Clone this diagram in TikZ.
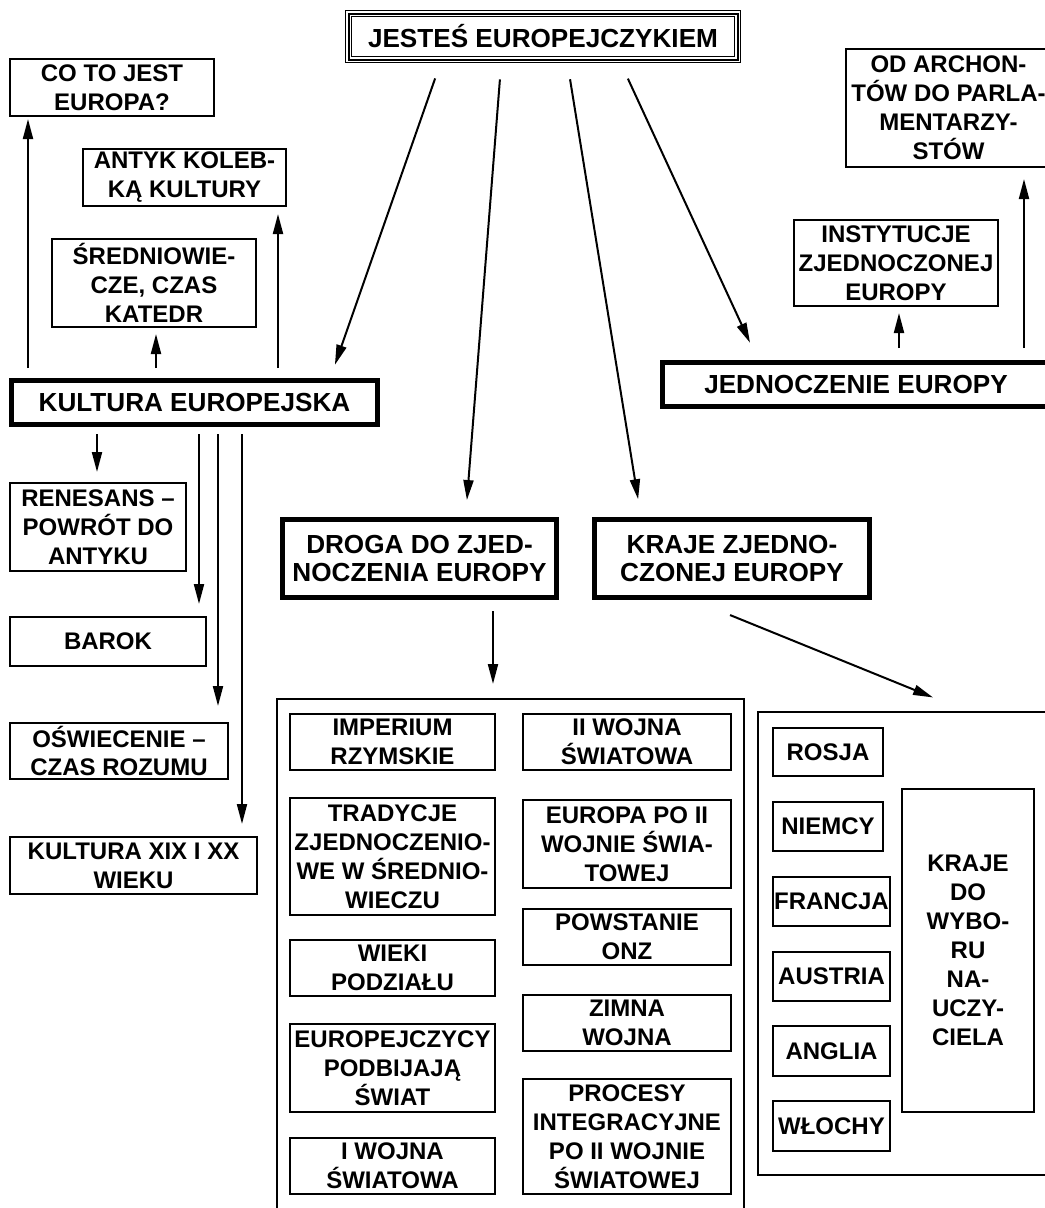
\documentclass[tikz,border=0pt]{standalone}
\usepackage{fontspec}
\setmainfont{Liberation Sans}
\usetikzlibrary{arrows.meta}
\newlength{\jd}\setlength{\jd}{0.75pt}
\newcommand{\duzy}{\fontsize{19.6}{21.7}\selectfont\bfseries}
\newcommand{\maly}{\fontsize{18}{21.7}\selectfont\bfseries}
\tikzset{
  pole/.style={draw, line width=1.5pt, align=center, inner sep=0pt, font=\maly},
  grube/.style={draw, line width=3.75pt, align=center, inner sep=0pt, font=\duzy},
  tytul/.style={draw, line width=1.5pt, preaction={draw, line width=5.25pt}, preaction={draw, white, line width=3.75pt}, align=center, inner sep=0pt, font=\duzy},
  ramka/.style={draw, line width=1.5pt, inner sep=0pt},
  strzalka/.style={line width=1.5pt, -{Triangle[length=15pt, width=7.5pt]}},
}

\begin{document}
\begin{tikzpicture}[x=0.75pt,y=0.75pt,yscale=-1,xscale=1]
\useasboundingbox (0,0) rectangle (1045,1208);
\clip (0,0) rectangle (1045,1208);

%Shape: Title
\node [tytul, minimum width=389\jd, minimum height=46\jd] (jestes) at (543,36.5) {JESTEŚ EUROPEJCZYKIEM};

%Shape: Rectangle (main topics)
\node [grube, minimum width=366\jd, minimum height=44\jd] (kultura) at (194.5,402.5) {KULTURA EUROPEJSKA};
\node [grube, minimum width=388\jd, minimum height=44\jd] (jedn) at (856,384.5) {JEDNOCZENIE EUROPY};
\node [grube, minimum width=274\jd, minimum height=78\jd] (droga) at (419.5,558.5) {DROGA DO ZJED-\\NOCZENIA EUROPY};
\node [grube, minimum width=275\jd, minimum height=78\jd] (krajez) at (732,558.5) {KRAJE ZJEDNO-\\CZONEJ EUROPY};

%Shape: Rectangle (culture)
\node [pole, minimum width=204\jd, minimum height=57\jd] (co) at (112,87.5) {CO TO JEST\\EUROPA?};
\node [pole, minimum width=203\jd, minimum height=57\jd] (antyk) at (184.5,177.5) {ANTYK KOLEB-\\KĄ KULTURY};
\node [pole, minimum width=204\jd, minimum height=88\jd] (sred) at (154,283) {ŚREDNIOWIE-\\CZE, CZAS\\KATEDR};
\node [pole, minimum width=176\jd, minimum height=88\jd] (renesans) at (98,527) {RENESANS –\\POWRÓT DO\\ANTYKU};
\node [pole, minimum width=196\jd, minimum height=49\jd] (barok) at (108,641.5) {BAROK};
\node [pole, minimum width=218\jd, minimum height=56\jd] (oswiec) at (119,751) {OŚWIECENIE –\\CZAS ROZUMU};
\node [pole, minimum width=247\jd, minimum height=57\jd] (xix) at (133.5,865.5) {KULTURA XIX I XX\\WIEKU};

%Shape: Rectangle (union)
\node [pole, minimum width=205\jd, minimum height=118\jd] (archont) at (948.5,108) {OD ARCHON-\\TÓW DO PARLA-\\MENTARZY-\\STÓW};
\node [pole, minimum width=204\jd, minimum height=86\jd] (instyt) at (896,263) {INSTYTUCJE\\ZJEDNOCZONEJ\\EUROPY};

%Shape: Frames
\node [ramka, minimum width=467\jd, minimum height=521\jd] (etapy) at (510.5,959.5) {};
\node [ramka, minimum width=294\jd, minimum height=463\jd] (panstwa) at (905,943.5) {};

%Shape: Rectangle (road to unity, left column)
\node [pole, minimum width=205\jd, minimum height=56\jd] (imperium) at (392.5,742) {IMPERIUM\\RZYMSKIE};
\node [pole, minimum width=205\jd, minimum height=117\jd] (tradycje) at (392.5,856.5) {TRADYCJE\\ZJEDNOCZENIO-\\WE W ŚREDNIO-\\WIECZU};
\node [pole, minimum width=205\jd, minimum height=56\jd] (podzial) at (392.5,968) {WIEKI\\PODZIAŁU};
\node [pole, minimum width=205\jd, minimum height=88\jd] (podboj) at (392.5,1068) {EUROPEJCZYCY\\PODBIJAJĄ\\ŚWIAT};
\node [pole, minimum width=205\jd, minimum height=56\jd] (wojna1) at (392.5,1166) {I WOJNA\\ŚWIATOWA};

%Shape: Rectangle (road to unity, right column)
\node [pole, minimum width=208\jd, minimum height=56\jd] (wojna2) at (627,742) {II WOJNA\\ŚWIATOWA};
\node [pole, minimum width=208\jd, minimum height=88\jd] (powojnie) at (627,844) {EUROPA PO II\\WOJNIE ŚWIA-\\TOWEJ};
\node [pole, minimum width=208\jd, minimum height=56\jd] (onz) at (627,937) {POWSTANIE\\ONZ};
\node [pole, minimum width=208\jd, minimum height=56\jd] (zimna) at (627,1023) {ZIMNA\\WOJNA};
\node [pole, minimum width=208\jd, minimum height=115\jd] (procesy) at (627,1136.5) {PROCESY\\INTEGRACYJNE\\PO II WOJNIE\\ŚWIATOWEJ};

%Shape: Rectangle (countries)
\node [pole, minimum width=110\jd, minimum height=48\jd] (rosja) at (828,752) {ROSJA};
\node [pole, minimum width=110\jd, minimum height=49\jd] (niemcy) at (828,826.5) {NIEMCY};
\node [pole, minimum width=117\jd, minimum height=49\jd] (francja) at (831.5,901.5) {FRANCJA};
\node [pole, minimum width=117\jd, minimum height=49\jd] (austria) at (831.5,976.5) {AUSTRIA};
\node [pole, minimum width=117\jd, minimum height=50\jd] (anglia) at (831.5,1051) {ANGLIA};
\node [pole, minimum width=117\jd, minimum height=50\jd] (wlochy) at (831.5,1126) {WŁOCHY};
\node [pole, minimum width=132\jd, minimum height=323\jd] (wybor) at (968,950.5) {KRAJE\\DO\\WYBO-\\RU\\NA-\\UCZY-\\CIELA};

%Straight Lines (from the title)
\draw [strzalka, shorten <=14.25pt, shorten >=10.5pt] (441.4,0 |- jestes.south) -- (330.3,0 |- kultura.north);
\draw [strzalka, shorten <=14.25pt, shorten >=12.75pt] (501.4,0 |- jestes.south) -- (465.6,0 |- droga.north);
\draw [strzalka, shorten <=14.25pt, shorten >=13.5pt] (567,0 |- jestes.south) -- (641,0 |- krajez.north);
\draw [strzalka, shorten <=15pt, shorten >=14.25pt] (619.5,0 |- jestes.south) -- (758,0 |- jedn.north);

%Straight Lines (culture, up)
\draw [strzalka, shorten <=7.5pt, shorten >=1.5pt] (28,0 |- kultura.north) -- (28,0 |- co.south);
\draw [strzalka, shorten <=7.5pt, shorten >=4.5pt] (156,0 |- kultura.north) -- (156,0 |- sred.south);
\draw [strzalka, shorten <=7.5pt, shorten >=5.25pt] (278,0 |- kultura.north) -- (278,0 |- antyk.south);

%Straight Lines (culture, down)
\draw [strzalka, shorten <=5.25pt, shorten >=7.5pt] (97,0 |- kultura.south) -- (97,0 |- renesans.north);
\draw [strzalka, shorten <=5.25pt, shorten >=9pt] (199,0 |- kultura.south) -- (199,0 |- barok.north);
\draw [strzalka, shorten <=5.25pt, shorten >=12pt] (218,0 |- kultura.south) -- (218,0 |- oswiec.north);
\draw [strzalka, shorten <=5.25pt, shorten >=9pt] (242,0 |- kultura.south) -- (242,0 |- xix.north);

%Straight Lines (union, up)
\draw [strzalka, shorten <=9pt, shorten >=4.5pt] (899,0 |- jedn.north) -- (899,0 |- instyt.south);
\draw [strzalka, shorten <=9pt, shorten >=8.25pt] (1024,0 |- jedn.north) -- (1024,0 |- archont.south);

%Straight Lines (to the frames)
\draw [strzalka, shorten <=8.25pt, shorten >=10.5pt] (493,0 |- droga.south) -- (493,0 |- etapy.north);
\draw [strzalka, shorten <=30pt, shorten >=27pt] (693,0 |- krajez.south) -- (966.4,0 |- panstwa.north);

\end{tikzpicture}
\end{document}
